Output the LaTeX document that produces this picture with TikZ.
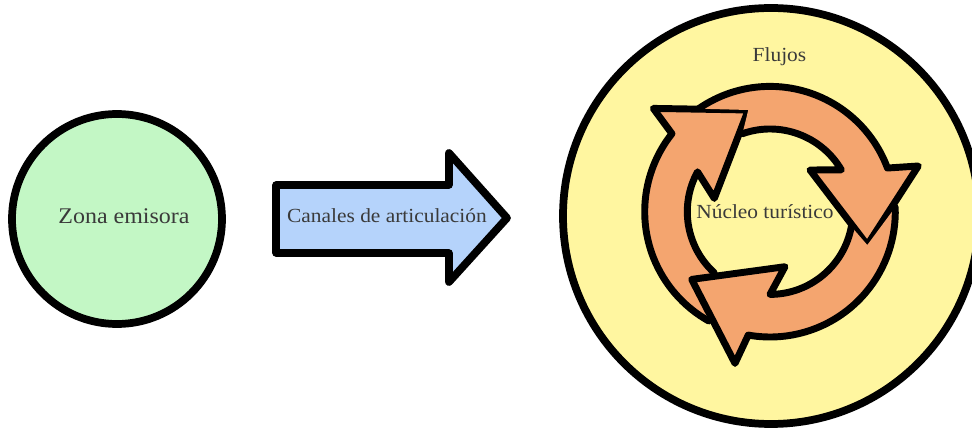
\documentclass[tikz,border=0pt]{standalone}
\usepackage{fontspec}
\setmainfont[FakeStretch=1.07]{Liberation Serif}
\definecolor{greenfill}{HTML}{C3F7C5}
\definecolor{bluefill}{HTML}{B5D3FB}
\definecolor{yellowfill}{HTML}{FFF6A0}
\definecolor{orangefill}{HTML}{F4A56F}
\definecolor{textgrey}{HTML}{3A3A3A}
\tikzset{
  shapeline/.style={draw=black,line width=5.8pt,line join=round},
  ringline/.style={draw=black,line width=5.2pt,line join=round,line cap=round},
  ringfill/.style={fill=orangefill},
  label/.style={text=textgrey,inner sep=0pt,font=\fontsize{15pt}{17pt}\selectfont},
  biglabel/.style={label,font=\fontsize{16.8pt}{19pt}\selectfont},
}
\newcommand{\ROut}{125.3}
\newcommand{\RIn}{82.7}
\begin{document}
\begin{tikzpicture}[x=.75pt,y=.75pt]
\useasboundingbox (0,0) rectangle (972,429);
\clip (0,0) rectangle (972,429);
% circles
\node[circle,shapeline,fill=greenfill,minimum size=157.5pt,inner sep=0pt] (emisora) at (117,210) {};
\node[circle,shapeline,fill=yellowfill,minimum size=312pt,inner sep=0pt] (flujos) at (771,213) {};
% block arrow
\path[shapeline,fill=bluefill] (276,244) -- (449,244) -- (449,276) -- (507,211) -- (449,147) -- (449,176) -- (276,176) -- cycle;
% ring
\begin{scope}[shift={(770,217.3)}]
  % A: left arrow
  \fill[ringfill] (227.5:\RIn) arc[start angle=227.5,end angle=151.2,radius=\RIn]
     -- (-55.7,13.3) -- (-21.7,101.7) -- (-116.7,103.3) -- (141.5:\ROut)
     arc[start angle=141.5,end angle=240.7,radius=\ROut] -- (-78.3,-67.7) -- cycle;
  \draw[ringline] (227.5:\RIn) arc[start angle=227.5,end angle=151.2,radius=\RIn]
     -- (-55.7,13.3) -- (-21.7,101.7) -- (-116.7,103.3) -- (141.5:\ROut)
     arc[start angle=141.5,end angle=240.7,radius=\ROut];
  % B: top-right arrow
  \fill[ringfill] (109.5:\RIn) arc[start angle=109.5,end angle=30.4,radius=\RIn]
     -- (40,41.7) -- (97.3,-33.3) -- (148.3,45.7) -- (20.4:\ROut)
     arc[start angle=20.4,end angle=124.7,radius=\ROut] -- (-21.7,101.7) -- cycle;
  \draw[ringline] (109.5:\RIn) arc[start angle=109.5,end angle=30.4,radius=\RIn]
     -- (40,41.7) -- (97.3,-33.3) -- (148.3,45.7) -- (20.4:\ROut)
     arc[start angle=20.4,end angle=124.7,radius=\ROut];
  % C: bottom arrow
  \fill[ringfill] (-10.4:\RIn) arc[start angle=-10.4,end angle=-90,radius=\RIn]
     -- (15,-55) -- (-78.3,-67.7) -- (-35,-151.7) -- (-100:\ROut)
     arc[start angle=-100,end angle=2,radius=\ROut] -- (97.3,-33.3) -- cycle;
  \draw[ringline] (-10.4:\RIn) arc[start angle=-10.4,end angle=-90,radius=\RIn]
     -- (15,-55) -- (-78.3,-67.7) -- (-35,-151.7) -- (-100:\ROut)
     arc[start angle=-100,end angle=2,radius=\ROut];
\end{scope}
% labels
\node[biglabel] (zona) at (124,213) {Zona emisora};
\node[label] (canales) at (387,213) {Canales de articulación};
\node[label] (flujoslabel) at (779.5,372) {Flujos};
\node[label] (nucleo) at (765,217) {Núcleo turístico};
\end{tikzpicture}
\end{document}
